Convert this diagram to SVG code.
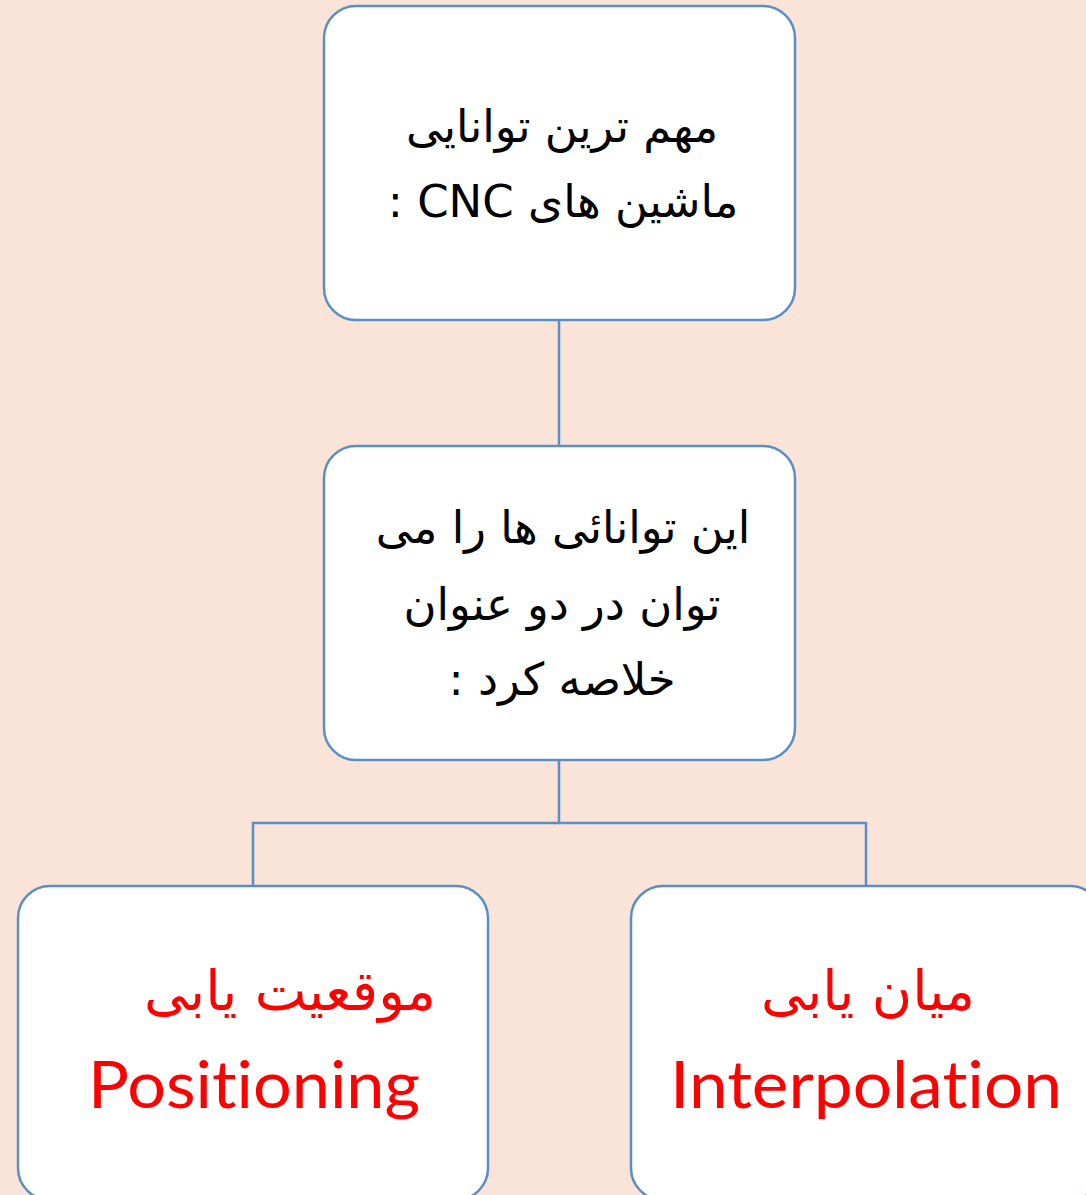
<svg xmlns="http://www.w3.org/2000/svg" width="1086" height="1195" viewBox="0 0 1086 1195">
<style>
.box{fill:#ffffff;stroke:#5B8EC7;stroke-width:2.5}
.conn{fill:none;stroke:#5B8EC7;stroke-width:2.5}
.ar{font-family:"DejaVu Sans","Noto Sans",sans-serif;font-size:45px;fill:#000;text-anchor:middle}
.red{fill:#FF0000;font-size:55px}
.lat{font-family:Lato,"Liberation Sans",sans-serif;font-size:66px;fill:#FF0000;text-anchor:middle;font-variant-ligatures:none}
</style>
<rect x="0" y="0" width="1086" height="1195" fill="#F9E4D7"/>
<g id="connectors">
<line class="conn" x1="559" y1="320" x2="559" y2="446"/>
<polyline class="conn" points="559,760 559,823 253,823 253,886"/>
<polyline class="conn" points="559,823 866,823 866,886"/>
</g>
<g id="node1">
<rect class="box" x="324" y="6" width="471" height="314" rx="32"/>
<text class="ar" direction="rtl" x="562" y="142">مهم ترین توانایی</text>
<text class="ar" direction="rtl" x="563" y="217">ماشین های CNC :</text>
</g>
<g id="node2">
<rect class="box" x="324" y="446" width="471" height="314" rx="32"/>
<text class="ar" direction="rtl" x="563" y="543">این توانائی ها را می</text>
<text class="ar" direction="rtl" x="562" y="620">توان در دو عنوان</text>
<text class="ar" direction="rtl" x="562" y="695">خلاصه کرد :</text>
</g>
<g id="node3">
<rect class="box" x="18" y="886" width="470" height="314" rx="32"/>
<text class="ar red" direction="rtl" x="290" y="1010">موقعیت یابی</text>
<text class="lat" x="254" y="1108" textLength="332" lengthAdjust="spacingAndGlyphs">Positioning</text>
</g>
<g id="node4">
<rect class="box" x="631" y="886" width="471" height="314" rx="32"/>
<text class="ar red" direction="rtl" x="868" y="1010">میان یابی</text>
<text class="lat" x="866" y="1108" textLength="392" lengthAdjust="spacingAndGlyphs">Interpolation</text>
</g>
</svg>
